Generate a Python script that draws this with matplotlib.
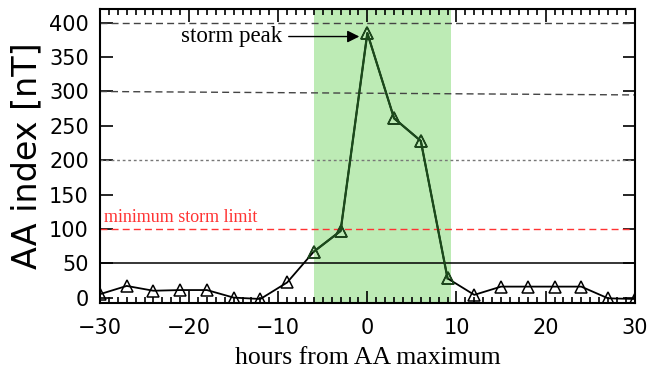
import numpy as np
import matplotlib.pyplot as plt

# AA index around storm maximum (3-hourly values)
hours = [-30, -27, -24, -21, -18, -15, -12, -9, -6, -3, 0, 3, 6, 9,
         12, 15, 18, 21, 24, 27, 30]
aa = [5, 17, 10, 11, 11, 0, -2, 22, 67, 97, 385, 261, 228, 28,
      4, 16, 16, 16, 16, -1, -2]
storm_start, storm_end = -6, 9.4
levels = [400, 300, 200]
storm_limit = 100
quiet_level = 50

fig = plt.figure(figsize=(6.49, 3.77), dpi=100)
ax = fig.add_axes([0.154, 0.196, 0.824, 0.78])

ax.axvspan(storm_start, storm_end, color='#bdebb5', lw=0, zorder=0)

ax.axhline(levels[0], color='#444444', ls=(0, (5, 3)), lw=1)
ax.plot([-30, 30], [levels[1], levels[1] - 5], color='#444444', ls=(0, (5, 3)), lw=1)
ax.axhline(levels[2], color='#777777', ls=(0, (2, 2)), lw=1)
ax.axhline(storm_limit, color='#ff3333', ls=(0, (5, 3)), lw=1)
ax.axhline(quiet_level, color='black', lw=1.1)

ax.plot(hours, aa, color='black', lw=1.3, marker='^', ms=8,
        mfc='none', mec='black', mew=1.1, zorder=3)
storm = [(h, v) for h, v in zip(hours, aa) if storm_start <= h <= storm_end]
ax.plot([s[0] for s in storm], [s[1] for s in storm], color='#1b4a1b', lw=1.6,
        marker='^', ms=8, mfc='none', mec='#1b4a1b', mew=1.1, zorder=4)

ax.annotate('storm peak', xy=(-0.9, 380), xytext=(-9.6, 380),
            fontsize=16.5, family='Liberation Serif', va='center', ha='right',
            arrowprops=dict(arrowstyle='-|>', color='black', lw=1,
                            mutation_scale=18, shrinkA=3, shrinkB=0))
ax.text(-29.5, 104, 'minimum storm limit', color='#ff3333', fontsize=13,
        family='Liberation Serif', va='bottom')

ax.set_xlim(-30, 30)
ax.set_ylim(-8, 420)
ax.set_xticks(np.arange(-30, 31, 10))
ax.set_xticks(np.arange(-30, 31, 1), minor=True)
ax.set_yticks(np.arange(0, 401, 50))
ax.set_xticklabels(['\u221230', '\u221220', '\u221210', '0', '10', '20', '30'])
ax.tick_params(axis='both', which='both', direction='in', top=True, right=True,
               labelsize=15, width=1.2)
ax.tick_params(axis='both', which='major', length=9, pad=8)
ax.tick_params(axis='x', which='major', pad=11)
ax.tick_params(axis='x', which='minor', length=4)
for s in ax.spines.values():
    s.set_linewidth(1.5)

ax.set_xlabel('hours from AA maximum', fontsize=18.5, family='Liberation Serif', labelpad=6)
ax.set_ylabel('AA index [nT]', fontsize=24, labelpad=4)

fig.savefig('out.png', dpi=100)
